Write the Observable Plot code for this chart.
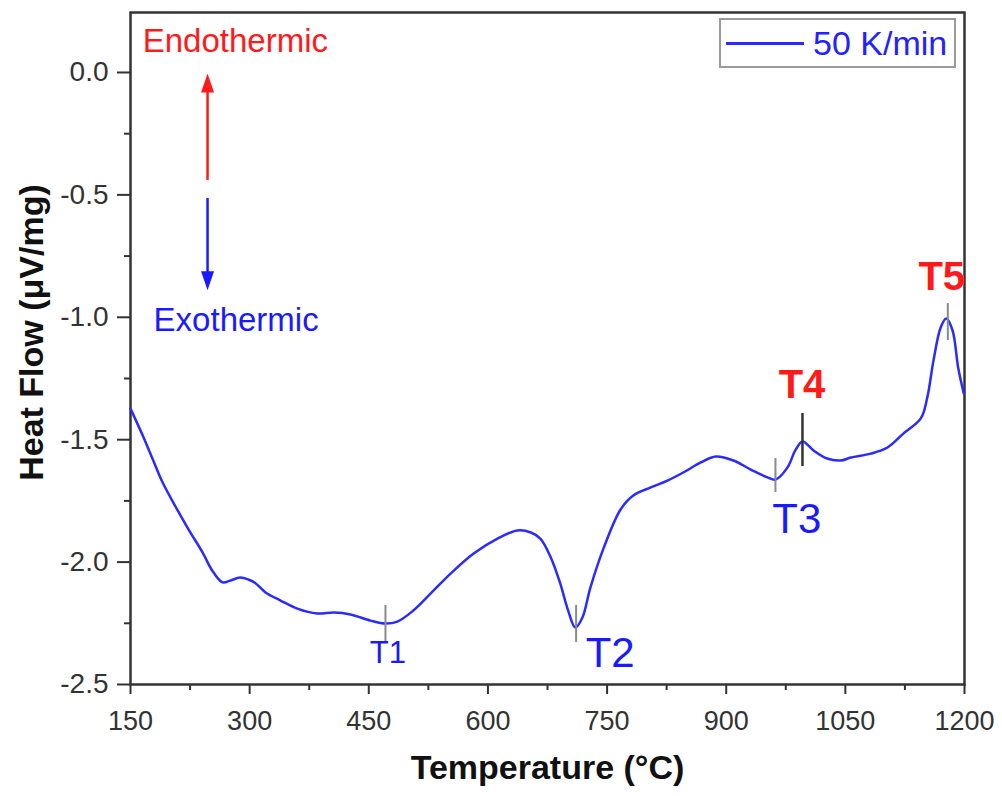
<!DOCTYPE html>
<html>
<head>
<meta charset="utf-8">
<script src="https://cdn.jsdelivr.net/npm/d3@7"></script>
<script src="https://cdn.jsdelivr.net/npm/@observablehq/plot@0.6"></script>
<style>
  html, body { margin: 0; padding: 0; background: #fff; }
  #wrap { position: relative; width: 1002px; height: 796px; font-family: "Liberation Sans", Arial, sans-serif; }
  #legend { position: absolute; left: 719px; top: 18px; width: 233px; height: 46px; border: 2px solid #9a9a9a; background: #fff; box-sizing: content-box; }
  #legend .ln { position: absolute; left: 5px; top: 22px; width: 78px; height: 0; border-top: 3px solid #2b2bff; }
  #legend .tx { position: absolute; left: 92px; top: 3px; font-size: 34px; line-height: 40px; color: #2222ff; }
</style>
</head>
<body>
<div id="wrap">
  <div id="chart"></div>
  <div id="legend"><div class="ln"></div><div class="tx">50 K/min</div></div>
</div>
<script>
// Heat flow curve (50 K/min)
const temperature = [150, 165, 178, 190, 207, 223, 241, 253, 266, 276, 288, 299, 307, 320, 339, 360, 385, 406, 427, 452, 471, 486, 506, 528, 553, 582, 612, 637, 654, 666, 679, 691, 701, 710, 719, 729, 746, 767, 783, 805, 826, 846, 868, 887, 909, 931, 952, 962, 977, 987, 996, 1010, 1027, 1044, 1057, 1082, 1103, 1123, 1145, 1153, 1161, 1170, 1177, 1185, 1192, 1199];
const heatFlow = [-1.373, -1.48, -1.58, -1.672, -1.775, -1.866, -1.962, -2.035, -2.083, -2.075, -2.063, -2.072, -2.085, -2.124, -2.157, -2.19, -2.21, -2.206, -2.214, -2.239, -2.251, -2.243, -2.198, -2.128, -2.047, -1.965, -1.904, -1.871, -1.879, -1.904, -1.98, -2.087, -2.198, -2.267, -2.226, -2.104, -1.94, -1.785, -1.728, -1.695, -1.667, -1.634, -1.593, -1.569, -1.585, -1.622, -1.654, -1.663, -1.614, -1.544, -1.507, -1.544, -1.577, -1.585, -1.573, -1.557, -1.532, -1.475, -1.413, -1.33, -1.176, -1.042, -1.005, -1.054, -1.205, -1.31];

// Tick values
const xTicks = [150, 300, 450, 600, 750, 900, 1050, 1200];
const xMinorTicks = [225, 375, 525, 675, 825, 975, 1125];
const yTicks = [-2.5, -2.0, -1.5, -1.0, -0.5, 0.0];
const yMinorTicks = [-2.25, -1.75, -1.25, -0.75, -0.25];

// Transition markers
const markerNames = ["T1", "T2", "T3", "T4", "T5"];
const markerTemps = [471, 711, 962, 996, 1179];
const markerTop = [-2.177, -2.177, -1.577, -1.393, -0.944];
const markerBottom = [-2.332, -2.328, -1.716, -1.610, -1.095];
const labelTemps = [474, 723, 958, 966, 1142];
const labelFlows = [-2.414, -2.43, -1.883, -1.328, -0.89];

// Endothermic / exothermic indicator
const indicatorNames = ["Endothermic", "Exothermic"];
const indicatorLabelTemp = [282, 283];
const indicatorLabelFlow = [0.082, -1.054];
const arrowTemp = [247, 247];
const arrowStart = [-0.441, -0.515];
const arrowShaftEnd = [-0.07, -0.82];
const arrowTip = [-0.004, -0.89];

const curve = temperature.map((t, i) => ({t, h: heatFlow[i]}));
const markers = markerNames.map((n, i) => ({n, t: markerTemps[i], y1: markerTop[i], y2: markerBottom[i], lt: labelTemps[i], lf: labelFlows[i]}));
const indicators = indicatorNames.map((n, i) => ({n, lt: indicatorLabelTemp[i], lf: indicatorLabelFlow[i], t: arrowTemp[i], y1: arrowStart[i], y2: arrowShaftEnd[i], tip: arrowTip[i]}));

const upHead = {draw(ctx) { ctx.moveTo(0, 0); ctx.lineTo(6.5, 19); ctx.lineTo(-6.5, 19); ctx.closePath(); }};
const downHead = {draw(ctx) { ctx.moveTo(0, 0); ctx.lineTo(6.5, -19); ctx.lineTo(-6.5, -19); ctx.closePath(); }};
const fmtY = d => d.toFixed(1);
const font = "Liberation Sans, Arial, sans-serif";

const chart = Plot.plot({
  width: 1002,
  height: 796,
  marginLeft: 130,
  marginRight: 38,
  marginTop: 12,
  marginBottom: 112,
  style: {fontFamily: font, background: "#fff", overflow: "visible"},
  x: {domain: [150, 1200], axis: null},
  y: {domain: [-2.5, 0.245], axis: null},
  marks: [
    Plot.axisX({ticks: xTicks, tickSize: 10, tickPadding: 16, tickFormat: d => String(d), fontSize: 27, color: "#333", strokeWidth: 2, label: null}),
    Plot.axisX({ticks: xMinorTicks, tickSize: 6, tickFormat: () => "", color: "#333", strokeWidth: 2, label: null}),
    Plot.axisY({ticks: yTicks, tickSize: 13, tickPadding: 9, tickFormat: fmtY, fontSize: 28, color: "#333", strokeWidth: 2, label: null}),
    Plot.axisY({ticks: yMinorTicks, tickSize: 6, tickFormat: () => "", color: "#333", strokeWidth: 2, label: null}),
    Plot.frame({stroke: "#333", strokeWidth: 2.5}),
    Plot.text(["Temperature (°C)"], {frameAnchor: "bottom", dy: 94, lineAnchor: "bottom", fontSize: 34, fontWeight: "bold", fill: "#111"}),
    Plot.text(["Heat Flow (μV/mg)"], {frameAnchor: "left", dx: -88, dy: -16, rotate: -90, lineAnchor: "bottom", textAnchor: "middle", fontSize: 34, fontWeight: "bold", fill: "#111"}),
    // indicator arrows
    Plot.ruleX([indicators[0]], {x: "t", y1: "y1", y2: "y2", stroke: "#ff1a1a", strokeWidth: 2.5}),
    Plot.ruleX([indicators[1]], {x: "t", y1: "y1", y2: "y2", stroke: "#1a1aff", strokeWidth: 2.5}),
    Plot.dot([indicators[0]], {x: "t", y: "tip", symbol: upHead, fill: "#ff1a1a", stroke: "none"}),
    Plot.dot([indicators[1]], {x: "t", y: "tip", symbol: downHead, fill: "#1a1aff", stroke: "none"}),
    Plot.text([indicators[0]], {x: "lt", y: "lf", text: "n", lineAnchor: "bottom", fontSize: 33, fill: "#ff1a1a"}),
    Plot.text([indicators[1]], {x: "lt", y: "lf", text: "n", lineAnchor: "bottom", fontSize: 33, fill: "#1a1aff"}),
    // curve
    Plot.line(curve, {x: "t", y: "h", curve: "catmull-rom", stroke: "#2b2bff", strokeWidth: 2.5}),
    // markers
    Plot.ruleX(markers.filter(d => d.n !== "T4"), {x: "t", y1: "y1", y2: "y2", stroke: "#8a8a8a", strokeWidth: 2}),
    Plot.ruleX(markers.filter(d => d.n === "T4"), {x: "t", y1: "y1", y2: "y2", stroke: "#333", strokeWidth: 2.5}),
    Plot.text(markers.filter(d => d.n === "T1"), {x: "lt", y: "lf", text: "n", lineAnchor: "bottom", textAnchor: "middle", fontSize: 31, fill: "#1a1aff"}),
    Plot.text(markers.filter(d => d.n === "T2" || d.n === "T3"), {x: "lt", y: "lf", text: "n", lineAnchor: "bottom", textAnchor: "start", fontSize: 42, fill: "#1a1aff"}),
    Plot.text(markers.filter(d => d.n === "T4" || d.n === "T5"), {x: "lt", y: "lf", text: "n", lineAnchor: "bottom", textAnchor: "start", fontSize: 40, fontWeight: "bold", fill: "#ff1a1a"})
  ]
});
document.getElementById("chart").appendChild(chart);
</script>
</body>
</html>
